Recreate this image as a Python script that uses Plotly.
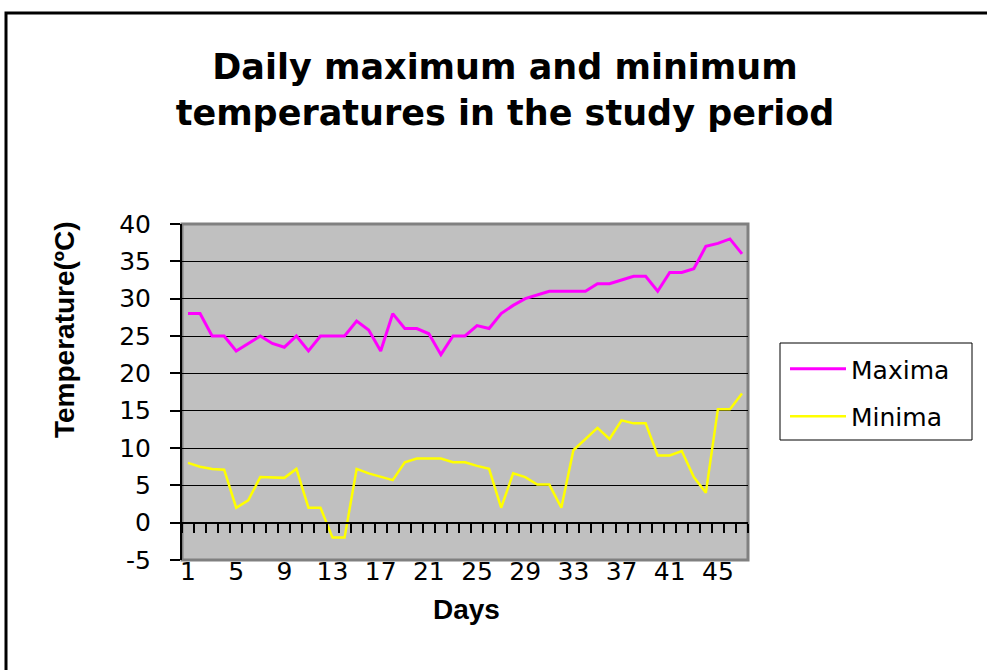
import plotly.graph_objects as go

days = list(range(1, 48))
maxima = [28, 28, 25, 25, 23, 24, 25, 24, 23.5, 25, 23, 25, 25, 25, 27, 25.8, 23, 28, 26, 26,
          25.3, 22.5, 25, 25, 26.4, 26, 28, 29.1, 30, 30.5, 31, 31, 31, 31, 32, 32, 32.5, 33, 33,
          31, 33.5, 33.5, 34, 37, 37.4, 38, 36]
minima = [8, 7.5, 7.2, 7.1, 2, 3, 6.1, 6, 6, 7.2, 2, 2, -2, -2, 7.2, 6.6, 6.2, 5.7, 8.1, 8.6,
          8.6, 8.6, 8.1, 8.1, 7.6, 7.2, 2, 6.6, 6.1, 5.1, 5.1, 2, 9.7, 11.2, 12.7, 11.2, 13.7,
          13.3, 13.3, 9, 9, 9.6, 6.1, 4, 15.2, 15.2, 17.3]
x_tick_labels = [1, 5, 9, 13, 17, 21, 25, 29, 33, 37, 41, 45]
y_ticks = [-5, 0, 5, 10, 15, 20, 25, 30, 35, 40]
y_tick_text = ["-5", "0", "5", "10", "15", "20", "25", "30", "35", "40"]

ARIAL = "Liberation Sans, Arial, sans-serif"
WIDE = "DejaVu Sans, Verdana, sans-serif"

fig = go.Figure()
fig.add_trace(go.Scatter(x=days, y=maxima, mode="lines", name="Maxima",
                         line=dict(color="#FF00FF", width=3), legendgroup="a"))
fig.add_trace(go.Scatter(x=days, y=minima, mode="lines", name="Minima",
                         line=dict(color="#FFFF00", width=2.5), legendgroup="b"))
# invisible trace on xaxis2 to activate the zero-line tick axis
fig.add_trace(go.Scatter(x=[days[0]], y=[0], xaxis="x2", mode="markers",
                         marker=dict(opacity=0), showlegend=False, hoverinfo="skip"))

W, H = 987, 670
L, R, T, B = 182, 748, 224, 560
pw, ph = R - L, B - T
def px_x(p):
    return (p - L) / pw
def px_y(p):
    return (B - p) / ph

fig.update_layout(
    width=W, height=H,
    margin=dict(l=L, r=W - R, t=T, b=H - B),
    paper_bgcolor="white",
    plot_bgcolor="#C0C0C0",
    font=dict(family=WIDE, color="black", size=25),
    title=dict(text="<b>Daily maximum and minimum<br>temperatures in the study period</b>",
               xref="container", yref="container", x=505 / W, y=1 - 79 / H,
               xanchor="center", yanchor="middle",
               font=dict(size=35, family=WIDE, color="black")),
    xaxis=dict(range=[0.5, 47.5], tickmode="array", tickvals=x_tick_labels,
               ticktext=[str(v) for v in x_tick_labels], ticks="", showgrid=False,
               zeroline=False, showline=False, tickfont=dict(size=25, family=WIDE),
               ticklabelstandoff=-6),
    xaxis2=dict(range=[0.5, 47.5], overlaying="x", anchor="free",
                position=(0 - (-5)) / 45, tickmode="linear", tick0=0.5, dtick=1,
                ticks="outside", ticklen=9, tickwidth=2, tickcolor="black",
                showticklabels=False, showgrid=False, zeroline=False,
                showline=True, linecolor="black", linewidth=2),
    yaxis=dict(range=[-5, 40], tickmode="array", tickvals=y_ticks, ticktext=y_tick_text,
               ticks="outside", ticklen=10, tickwidth=1.5, tickcolor="black",
               showgrid=True, gridcolor="black", gridwidth=1.3,
               zeroline=False, showline=True, linecolor="black", linewidth=2,
               tickfont=dict(size=25, family=WIDE), ticklabelstandoff=14),
    legend=dict(x=px_x(785), y=px_y(346), xanchor="left", yanchor="top",
                bgcolor="rgba(0,0,0,0)", borderwidth=0,
                font=dict(size=25, family=WIDE), tracegroupgap=12,
                traceorder="grouped", itemwidth=56),
    showlegend=True,
)

# plot area gray border
fig.add_shape(type="rect", xref="paper", yref="paper", x0=0, x1=1, y0=0, y1=1,
              line=dict(color="#808080", width=3), layer="below")
# legend box
fig.add_shape(type="rect", xref="paper", yref="paper",
              x0=px_x(780), x1=px_x(972), y0=px_y(440), y1=px_y(343),
              line=dict(color="black", width=1), fillcolor="white", layer="below")
# outer frame
fig.add_shape(type="rect", xref="paper", yref="paper",
              x0=px_x(6), x1=px_x(1010), y0=px_y(700), y1=px_y(13),
              line=dict(color="black", width=3))

fig.add_annotation(text="<b>Temperature(ºC)</b>", xref="paper", yref="paper",
                   x=px_x(64), y=px_y(330), textangle=-90, showarrow=False,
                   font=dict(size=28, family=ARIAL, color="black"),
                   xanchor="center", yanchor="middle")
fig.add_annotation(text="<b>Days</b>", xref="paper", yref="paper",
                   x=px_x(466), y=px_y(609), showarrow=False,
                   font=dict(size=28, family=ARIAL, color="black"),
                   xanchor="center", yanchor="middle")

fig.write_html("out.html", config={"displayModeBar": False},
               post_script="document.body.style.margin='0';document.body.style.overflow='hidden';")
